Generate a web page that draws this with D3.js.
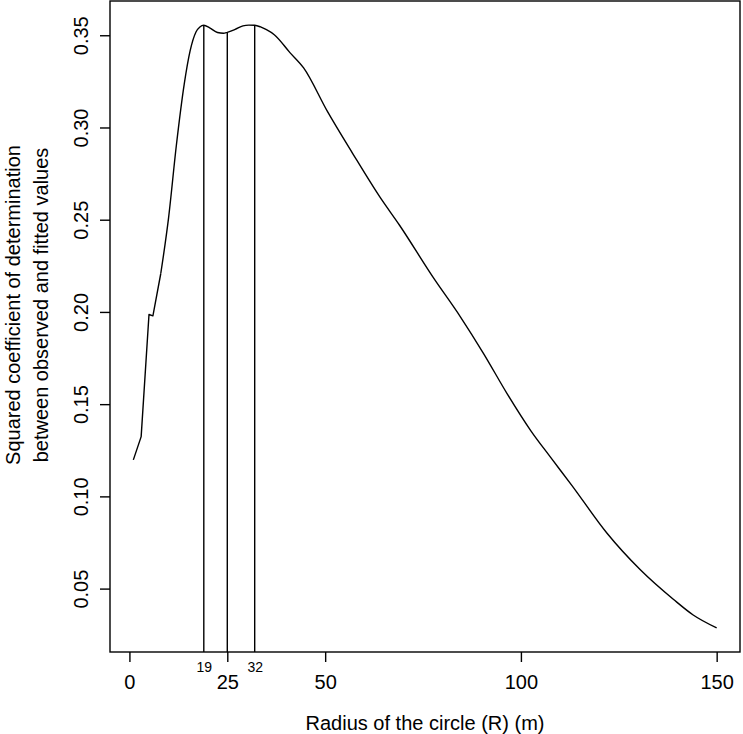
<!DOCTYPE html>
<html>
<head>
<meta charset="utf-8">
<script src="https://cdn.jsdelivr.net/npm/d3@7"></script>
<style>
  body { margin: 0; background: #fff; }
  text { font-family: "Liberation Sans", Arial, sans-serif; fill: #000; }
</style>
</head>
<body>
<div id="chart"></div>
<script>
// radius of the circle (m) and the squared coefficient
var radius = [1, 3, 5, 6, 8, 10, 12, 14, 15.5, 17, 18, 19, 20.5, 22.5, 24, 25, 27, 29, 30.5, 32,
	33.5, 35, 37, 41, 44.5, 50.5, 57, 64, 69, 77.5, 84.5, 90.5, 96.5, 102.5, 107.5, 113,
	122, 130.5, 139, 144, 150];
var r2 = [0.1198, 0.1324, 0.1986, 0.1979, 0.2207, 0.2510, 0.2905, 0.3235, 0.3415, 0.3518, 0.3545,
	0.3554, 0.3540, 0.3515, 0.3511, 0.3516, 0.3532, 0.3551, 0.3555, 0.3554,
	0.3545, 0.3530, 0.3503, 0.3406, 0.3323, 0.3090, 0.2860, 0.2622, 0.2470, 0.2190,
	0.1975, 0.1773, 0.1556, 0.1357, 0.1214, 0.1060,
	0.0800, 0.0602, 0.0441, 0.0357, 0.0287];

// marked radii (vertical lines)
var markR = [19, 25, 32];
var markVal = [0.3554, 0.3516, 0.3554];

var xTicks = [0, 25, 50, 100, 150];
var yTicks = [0.05, 0.10, 0.15, 0.20, 0.25, 0.30, 0.35];
var smallTicks = [19, 32];

var xTitle = "Radius of the circle (R) (m)";
var yTitle = ["Squared coefficient of determination", "between observed and fitted values"];

var data = radius.map(function(d, i) { return { r: d, v: r2[i] }; });

var W = 743, H = 734;
var box = { left: 110, right: 740, top: 1, bottom: 652 };

var svg = d3.select("#chart")
	.append("svg")
	.attr("width", W)
	.attr("height", H);

// R style 4% padding on the data range
function pad(ext) {
	var p = (ext[1] - ext[0]) * 0.04;
	return [ext[0] - p, ext[1] + p];
}

var x = d3.scaleLinear()
	.domain(pad(d3.extent(radius)))
	.range([box.left, box.right]);

var y = d3.scaleLinear()
	.domain(pad(d3.extent(r2)))
	.range([box.bottom, box.top]);

// x axis
var gx = svg.append("g")
	.attr("transform", "translate(0," + box.bottom + ")")
	.call(d3.axisBottom(x).tickValues(xTicks).tickSize(10).tickPadding(13).tickFormat(d3.format("d")));
gx.select(".domain").remove();
gx.selectAll("line").attr("stroke", "#000").attr("stroke-width", 1.4);
gx.selectAll("text").style("font-size", "20px");

// small labels for 19 and 32 (no tick marks)
var gs = svg.append("g")
	.attr("transform", "translate(0," + box.bottom + ")")
	.call(d3.axisBottom(x).tickValues(smallTicks).tickSize(0).tickPadding(10).tickFormat(d3.format("d")));
gs.select(".domain").remove();
gs.selectAll("text").style("font-size", "14px");

// y axis
var gy = svg.append("g")
	.attr("transform", "translate(" + box.left + ",0)")
	.call(d3.axisLeft(y).tickValues(yTicks).tickSize(10).tickFormat(d3.format(".2f")));
gy.select(".domain").remove();
gy.selectAll("line").attr("stroke", "#000").attr("stroke-width", 1.4);
gy.selectAll("text")
	.style("font-size", "20px")
	.attr("x", null)
	.attr("dy", null)
	.attr("text-anchor", "middle")
	.attr("transform", "translate(-22,0) rotate(-90)");

// plot box
svg.append("rect")
	.attr("x", box.left)
	.attr("y", box.top)
	.attr("width", box.right - box.left)
	.attr("height", box.bottom - box.top)
	.attr("fill", "none")
	.attr("stroke", "#000")
	.attr("stroke-width", 1.4);

// vertical lines at marked radii
svg.selectAll(".mark")
	.data(markR)
	.enter()
	.append("line")
	.attr("class", "mark")
	.attr("x1", function(d) { return x(d); })
	.attr("x2", function(d) { return x(d); })
	.attr("y1", y.range()[0])
	.attr("y2", function(d, i) { return y(markVal[i]); })
	.attr("stroke", "#000")
	.attr("stroke-width", 1.4);

// curve: straight pieces at the start, smooth afterwards
var lineStraight = d3.line()
	.x(function(d) { return x(d.r); })
	.y(function(d) { return y(d.v); });

var lineSmooth = d3.line()
	.x(function(d) { return x(d.r); })
	.y(function(d) { return y(d.v); })
	.curve(d3.curveMonotoneX);

svg.append("path")
	.datum(data.filter(function(d) { return d.r <= 8; }))
	.attr("d", lineStraight)
	.attr("fill", "none")
	.attr("stroke", "#000")
	.attr("stroke-width", 1.4)
	.attr("stroke-linejoin", "round");

svg.append("path")
	.datum(data.filter(function(d) { return d.r >= 8; }))
	.attr("d", lineSmooth)
	.attr("fill", "none")
	.attr("stroke", "#000")
	.attr("stroke-width", 1.4);

// titles
svg.append("text")
	.attr("x", (box.left + box.right) / 2)
	.attr("y", 730)
	.attr("text-anchor", "middle")
	.style("font-size", "20px")
	.text(xTitle);

svg.selectAll(".ytitle")
	.data(yTitle)
	.enter()
	.append("text")
	.attr("class", "ytitle")
	.attr("text-anchor", "middle")
	.attr("transform", function(d, i) {
		return "translate(" + (20 + i * 28) + "," + 305 + ") rotate(-90)";
	})
	.style("font-size", "20px")
	.text(function(d) { return d; });
</script>
</body>
</html>
